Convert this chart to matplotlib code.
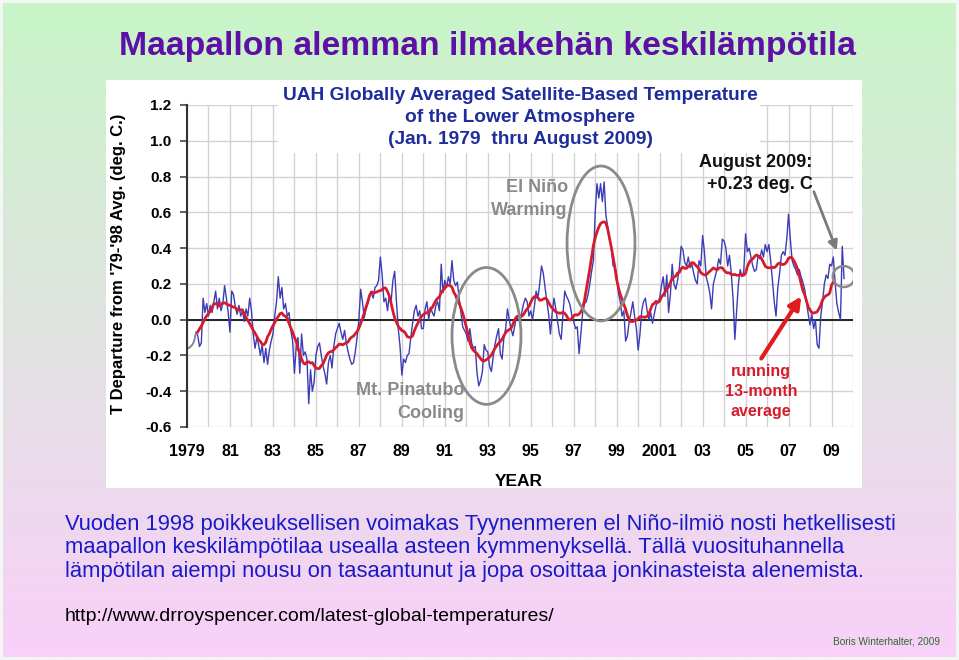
import numpy as np
import matplotlib.pyplot as plt
from matplotlib.patches import Rectangle, Ellipse
from matplotlib.ticker import MultipleLocator

plt.rcParams['font.family'] = ['Liberation Sans', 'DejaVu Sans']

# UAH lower troposphere monthly anomalies (deg C)
t1979 = [-0.15, -0.16, -0.15, -0.14, -0.12, -0.07, -0.09, -0.15, -0.13, 0.12, 0.04, 0.09]
t1980 = [0.02, 0.08, 0.04, 0.10, 0.16, 0.06, 0.12, 0.05, 0.09, 0.19, 0.12, 0.04]
t1981 = [-0.07, 0.16, 0.14, 0.07, 0.03, 0.08, 0.02, 0.05, -0.01, 0.06, 0.02, 0.12]
t1982 = [0.05, -0.08, -0.16, -0.10, -0.14, -0.20, -0.14, -0.24, -0.16, -0.25, -0.17, -0.12]
t1983 = [-0.08, 0.02, 0.10, 0.24, 0.12, 0.18, 0.06, 0.09, 0.02, 0.04, -0.06, -0.12]
t1984 = [-0.30, -0.15, -0.10, -0.30, -0.08, -0.20, -0.18, -0.22, -0.47, -0.28, -0.40, -0.35]
t1985 = [-0.20, -0.15, -0.13, -0.20, -0.26, -0.30, -0.36, -0.24, -0.20, -0.27, -0.15, -0.08]
t1986 = [-0.05, -0.02, -0.07, -0.11, -0.06, -0.13, -0.18, -0.22, -0.25, -0.24, -0.18, -0.10]
t1987 = [0.00, 0.17, 0.10, 0.01, 0.06, 0.09, 0.13, 0.15, 0.12, 0.18, 0.19, 0.22]
t1988 = [0.35, 0.25, 0.10, 0.12, 0.05, 0.14, 0.10, 0.22, 0.27, 0.10, -0.05, -0.15]
t1989 = [-0.31, -0.22, -0.24, -0.20, -0.19, -0.10, -0.02, 0.05, 0.08, 0.02, 0.05, -0.05]
t1990 = [-0.05, 0.06, 0.10, 0.00, 0.07, 0.04, 0.02, 0.08, 0.10, 0.05, 0.31, 0.15]
t1991 = [0.22, 0.18, 0.24, 0.20, 0.33, 0.22, 0.19, 0.21, 0.12, 0.04, -0.04, -0.06]
t1992 = [-0.08, -0.12, -0.05, -0.13, -0.16, -0.15, -0.30, -0.37, -0.34, -0.29, -0.14, -0.17]
t1993 = [-0.18, -0.26, -0.29, -0.21, -0.14, -0.09, -0.05, -0.19, -0.22, -0.10, -0.05, 0.06]
t1994 = [0.00, -0.05, -0.09, -0.04, 0.02, 0.00, -0.01, 0.04, 0.09, 0.12, 0.10, 0.02]
t1995 = [0.05, 0.00, 0.07, 0.16, 0.12, 0.20, 0.30, 0.26, 0.18, 0.10, 0.03, -0.08]
t1996 = [0.04, 0.12, 0.06, -0.01, -0.08, -0.11, 0.03, 0.16, 0.13, 0.11, 0.08, 0.02]
t1997 = [-0.01, -0.05, -0.04, -0.19, -0.08, 0.04, 0.09, 0.10, 0.14, 0.20, 0.27, 0.33]
t1998 = [0.60, 0.76, 0.68, 0.76, 0.66, 0.77, 0.58, 0.52, 0.45, 0.40, 0.30, 0.30]
t1999 = [0.25, 0.15, 0.10, 0.02, 0.05, -0.12, -0.09, -0.01, 0.04, 0.10, 0.02, -0.05]
t2000 = [-0.17, -0.08, 0.05, 0.10, 0.12, 0.05, 0.00, 0.04, -0.02, 0.03, 0.08, 0.10]
t2001 = [0.12, 0.19, 0.24, 0.13, 0.25, 0.04, 0.14, 0.31, 0.20, 0.17, 0.22, 0.29]
t2002 = [0.41, 0.39, 0.32, 0.30, 0.35, 0.29, 0.31, 0.26, 0.22, 0.20, 0.33, 0.30]
t2003 = [0.47, 0.38, 0.24, 0.20, 0.15, 0.06, 0.20, 0.24, 0.28, 0.34, 0.31, 0.45]
t2004 = [0.44, 0.40, 0.30, 0.36, 0.26, 0.12, -0.11, 0.05, 0.20, 0.28, 0.24, 0.27]
t2005 = [0.48, 0.38, 0.40, 0.35, 0.30, 0.27, 0.28, 0.36, 0.34, 0.39, 0.35, 0.42]
t2006 = [0.38, 0.42, 0.33, 0.22, 0.10, 0.02, 0.18, 0.26, 0.36, 0.38, 0.36, 0.45]
t2007 = [0.59, 0.45, 0.33, 0.30, 0.28, 0.25, 0.28, 0.24, 0.21, 0.17, 0.10, 0.03]
t2008 = [-0.03, 0.03, -0.05, 0.00, -0.14, -0.16, 0.02, 0.10, 0.20, 0.25, 0.23, 0.31]
t2009 = [0.30, 0.35, 0.21, 0.09, 0.04, 0.00, 0.41, 0.23]

years = [t1979, t1980, t1981, t1982, t1983, t1984, t1985, t1986, t1987, t1988,
         t1989, t1990, t1991, t1992, t1993, t1994, t1995, t1996, t1997, t1998,
         t1999, t2000, t2001, t2002, t2003, t2004, t2005, t2006, t2007, t2008, t2009]
temps = np.array([v for yr in years for v in yr])
t = 1979 + np.arange(len(temps)) / 12.0

# running 13-month average (centred)
avg = np.convolve(temps, np.ones(13) / 13, mode='valid')
t_avg = t[6:-6]

year_labels = ['1979', '81', '83', '85', '87', '89', '91', '93', '95', '97',
               '99', '2001', '03', '05', '07', '09']
year_ticks = np.arange(1979, 2010, 2)

body_lines = [
    "Vuoden 1998 poikkeuksellisen voimakas Tyynenmeren el Niño-ilmiö nosti hetkellisesti",
    "maapallon keskilämpötilaa usealla asteen kymmenyksellä. Tällä vuosituhannella",
    "lämpötilan aiempi nousu on tasaantunut ja jopa osoittaa jonkinasteista alenemista.",
]

W, H = 959, 660


def fx(px):
    return px / W


def fy(py):
    return 1 - py / H


fig = plt.figure(figsize=(W / 100, H / 100), dpi=100)
fig.patch.set_facecolor('#f3f7f3')

# slide background gradient (green -> pink)
bg = fig.add_axes([fx(3), 3 / H, (W - 6) / W, (H - 6) / H])
top = np.array([200, 245, 200]) / 255
bot = np.array([249, 208, 249]) / 255
f = np.linspace(0, 1, 300)[:, None, None]
grad = top * (1 - f) + bot * f
bg.imshow(grad, aspect='auto', extent=[0, 1, 0, 1])
bg.axis('off')

# white chart panel
panel = fig.add_axes([fx(106), fy(488), fx(862) - fx(106), fy(80) - fy(488)])
panel.set_facecolor('white')
panel.set_xticks([])
panel.set_yticks([])
for s in panel.spines.values():
    s.set_visible(False)

ax = fig.add_axes([fx(187), fy(427), fx(853) - fx(187), fy(105) - fy(427)])
ax.set_facecolor('white')
ax.set_xlim(1979, 2010)
ax.set_ylim(-0.6, 1.2)
ax.set_axisbelow(True)
ax.xaxis.set_minor_locator(MultipleLocator(1))
ax.set_xticks(year_ticks)
ax.set_xticklabels(year_labels, fontsize=11.5, fontweight='bold')
ax.set_yticks(np.arange(-0.6, 1.21, 0.2))
ax.set_yticklabels(['%.1f' % v for v in np.arange(-0.6, 1.21, 0.2)],
                   fontsize=11, fontweight='bold')
ax.tick_params(axis='x', which='both', length=0, pad=12)
ax.tick_params(axis='y', length=5, width=1.2, color='#444', pad=6)
ax.grid(True, which='both', axis='x', color='#d2d2d2', lw=1)
ax.grid(True, axis='y', color='#d2d2d2', lw=1)
for s in ['top', 'right', 'bottom']:
    ax.spines[s].set_visible(False)
ax.spines['left'].set_color('#333')
ax.spines['left'].set_linewidth(1.5)
ax.axhline(0, color='#222', lw=1.4, zorder=1.5)

# white box behind the chart heading hides part of the grid
ax.add_patch(Rectangle((1983.23, 0.93), 22.43, 0.4, facecolor='white',
                       edgecolor='none', zorder=1))

ax.plot(t, temps, color='#3c3cb6', lw=1.0, zorder=2)
ax.plot(t[:6], temps[:6], color='#8a8a9a', lw=1.1, zorder=2.1)
ax.plot(t_avg, avg, color='#d41c2c', lw=2.0, zorder=3)

gray = '#8a8a8a'
ax.add_patch(Ellipse((1998.27, 0.426), 3.16, 0.866, fill=False, ec=gray, lw=2, zorder=4))
ax.add_patch(Ellipse((1992.94, -0.091), 3.21, 0.765, fill=False, ec=gray, lw=2, zorder=4))
ax.add_patch(Ellipse((2009.57, 0.241), 1.02, 0.117, fill=False, ec=gray, lw=1.8, zorder=4))

ax.text(1996.73, 0.741, 'El Niño', color=gray, fontsize=13, fontweight='bold',
        ha='right', va='center', zorder=5)
ax.text(1996.73, 0.613, 'Warming', color=gray, fontsize=13, fontweight='bold',
        ha='right', va='center', zorder=5)
ax.text(1991.89, -0.397, 'Mt. Pinatubo', color=gray, fontsize=13, fontweight='bold',
        ha='right', va='center', zorder=5)
ax.text(1991.89, -0.527, 'Cooling', color=gray, fontsize=13, fontweight='bold',
        ha='right', va='center', zorder=5)
ax.text(2008.13, 0.881, 'August 2009:', color='#111', fontsize=13, fontweight='bold',
        ha='right', va='center', zorder=5)
ax.text(2008.13, 0.758, '+0.23 deg. C', color='#111', fontsize=13, fontweight='bold',
        ha='right', va='center', zorder=5)
for yv, s in zip([-0.287, -0.399, -0.511], ['running', '13-month', 'average']):
    ax.text(2005.71, yv, s, color='#d41c2c', fontsize=11.5, fontweight='bold',
            ha='center', va='center', zorder=5)

ax.annotate('', xy=(2009.29, 0.372), xytext=(2008.13, 0.73),
            arrowprops=dict(arrowstyle='-|>', color='#7a7a7a', lw=2, mutation_scale=14),
            zorder=5)
ax.annotate('', xy=(2007.66, 0.143), xytext=(2005.66, -0.23),
            arrowprops=dict(arrowstyle='-|>', color='#e01c1c', lw=3, mutation_scale=18),
            zorder=5)

# chart heading and axis labels
head_col = '#1f2c9c'
for py, s in zip([95, 118, 140], ['UAH Globally Averaged Satellite-Based Temperature',
                                  'of the Lower Atmosphere',
                                  '(Jan. 1979  thru August 2009)']):
    fig.text(fx(520), fy(py), s, color=head_col, fontsize=13.8, fontweight='bold',
             ha='center', va='center')
fig.text(fx(119), fy(264), "T Departure from '79-'98 Avg. (deg. C.)", rotation=90,
         fontsize=12, fontweight='bold', ha='center', va='center')
fig.text(fx(519), fy(481), 'YEAR', fontsize=12.5, fontweight='bold', ha='center', va='center')

# slide text
fig.text(fx(487), fy(47), 'Maapallon alemman ilmakehän keskilämpötila', color='#5e10a6',
         fontsize=24.3, fontweight='bold', ha='center', va='center')
for py, s in zip([530, 553.5, 577], body_lines):
    fig.text(fx(65), fy(py), s, color='#1a1ac8', fontsize=15.8, ha='left', va='baseline')
fig.text(fx(65), fy(621), 'http://www.drroyspencer.com/latest-global-temperatures/',
         color='black', fontsize=14, ha='left', va='baseline')
fig.text(fx(940), fy(645), 'Boris Winterhalter, 2009', color='#2e6a2e', fontsize=7.2,
         ha='right', va='baseline')

plt.savefig('out.png', dpi=100)
